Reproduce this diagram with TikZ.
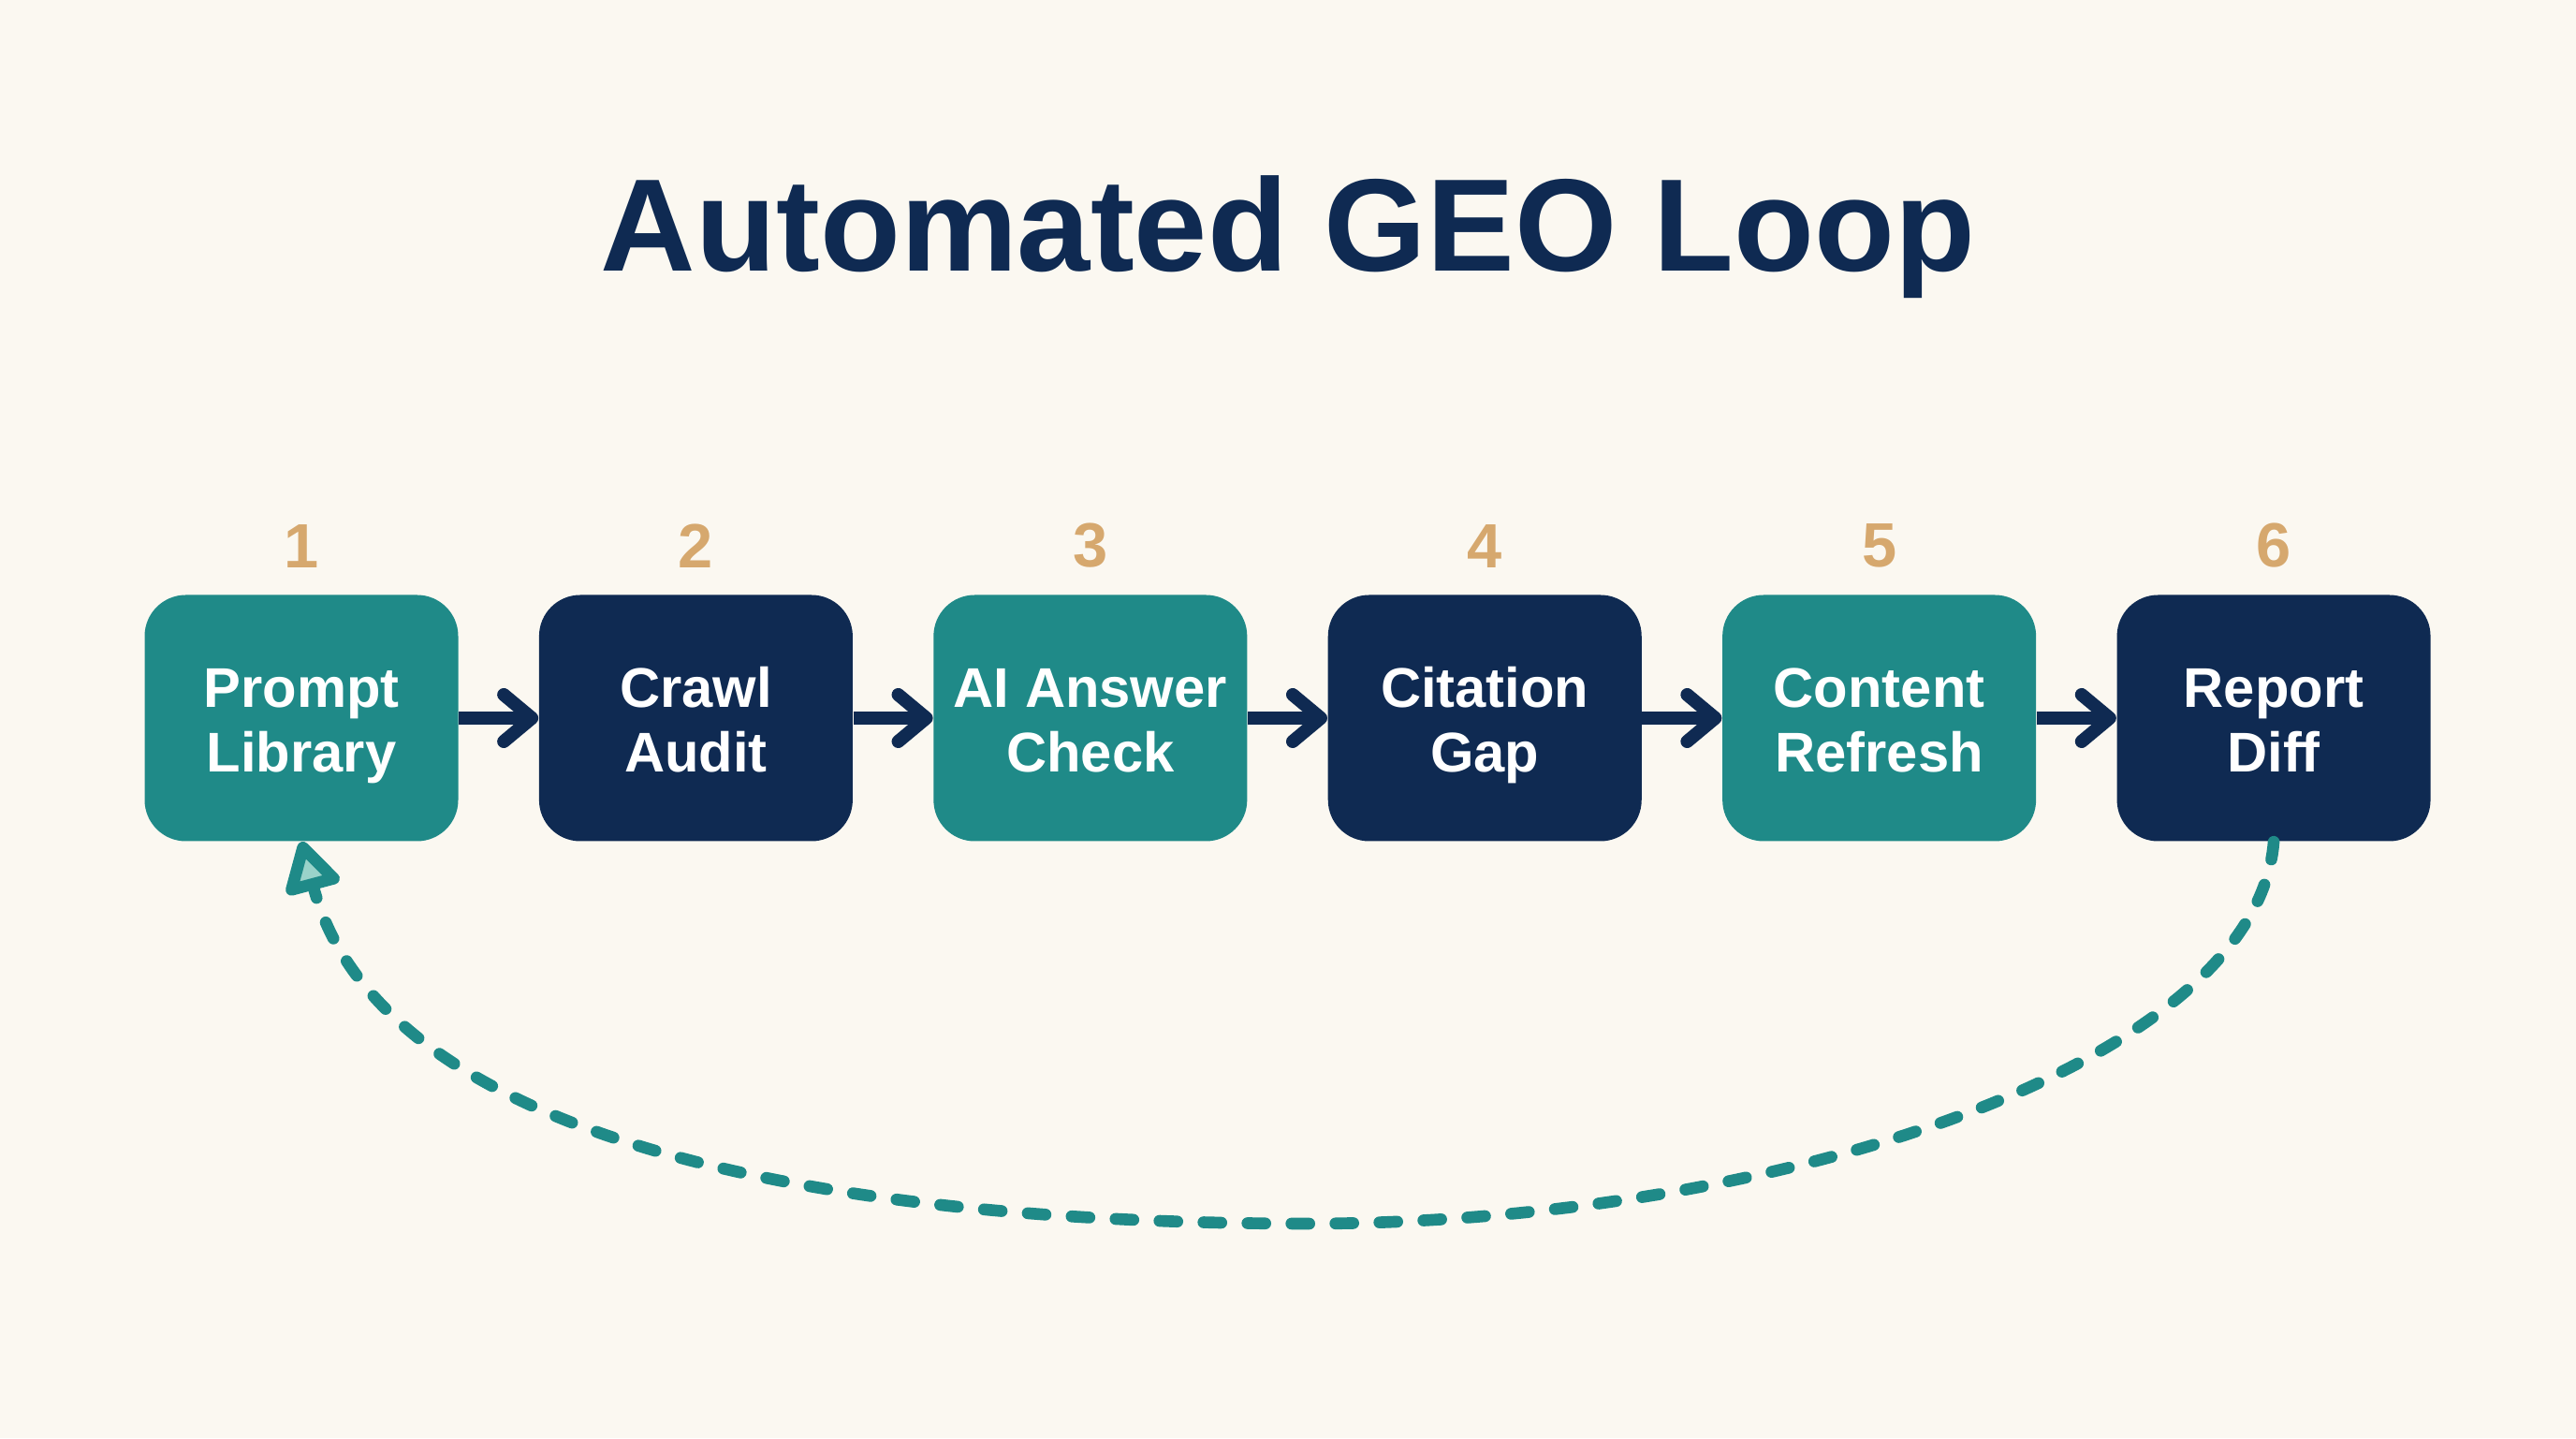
\documentclass[tikz,border=0pt]{standalone}
\usepackage{fontspec}
\setmainfont{Liberation Sans}
\usetikzlibrary{arrows.meta,positioning}

\definecolor{paper}{HTML}{FBF8F1}
\definecolor{tealbox}{HTML}{1F8A88}
\definecolor{navybox}{HTML}{0F2A52}
\definecolor{tan}{HTML}{D6A86E}
\definecolor{tiplight}{HTML}{9AD3CA}

% two centred lines with fixed top and bottom
\newcommand{\stagetext}[2]{\rule{0pt}{13pt}\smash{#1}\\\smash{#2}}

\begin{document}
\begin{tikzpicture}[
    node distance=0.85cm,
    stage/.style={rectangle, rounded corners=0.44cm, minimum width=3.35cm, minimum height=2.63cm, text=white, align=center, inner sep=0pt, font=\fontsize{17}{19.5}\selectfont\bfseries},
    tealstage/.style={stage, fill=tealbox},
    navystage/.style={stage, fill=navybox},
    num/.style={text=tan, inner sep=0pt, font=\fontsize{19}{20}\selectfont\bfseries},
    flow/.style={draw=navybox, line width=4pt, -{Straight Barb[length=0.3cm, width=0.5cm, round]}},
    back/.style={draw=tealbox, line width=3.6pt, line cap=round, dash pattern=on 0.19cm off 0.28cm, -{Triangle[length=0.6cm, width=0.65cm, round, fill=tiplight]}}
]
\fill[paper] (0,0) rectangle (27.52,15.36);
\node[text=navybox, anchor=base, font=\fontsize{40}{44}\selectfont\bfseries] (title) at (13.76,12.46) {Automated GEO Loop};

% the six stages
\node[tealstage] (prompt) at (3.22,7.69) {\stagetext{Prompt}{Library}};
\node[navystage, right=of prompt] (crawl) {\stagetext{Crawl}{Audit}};
\node[tealstage, right=of crawl] (answer) {\stagetext{AI Answer}{Check}};
\node[navystage, right=of answer] (citation) {\stagetext{Citation}{Gap}};
\node[tealstage, right=of citation] (content) {\stagetext{Content}{Refresh}};
\node[navystage, right=of content] (report) {\stagetext{Report}{Diff}};

% step numbers
\node[num, above=0.28cm of prompt] (n1) {1};
\node[num, above=0.28cm of crawl] (n2) {2};
\node[num, above=0.28cm of answer] (n3) {3};
\node[num, above=0.28cm of citation] (n4) {4};
\node[num, above=0.28cm of content] (n5) {5};
\node[num, above=0.28cm of report] (n6) {6};

\draw[flow] (prompt) -- (crawl);
\draw[flow] (crawl) -- (answer);
\draw[flow] (answer) -- (citation);
\draw[flow] (citation) -- (content);
\draw[flow] (content) -- (report);

% loop back
\coordinate (low) at (14,2.29);
\draw[back] (report.south) .. controls (24.1,4.0) and (19,2.3) .. (low)
    .. controls (8,2.29) and (4.0,3.44) .. (prompt.south);
\end{tikzpicture}
\end{document}
